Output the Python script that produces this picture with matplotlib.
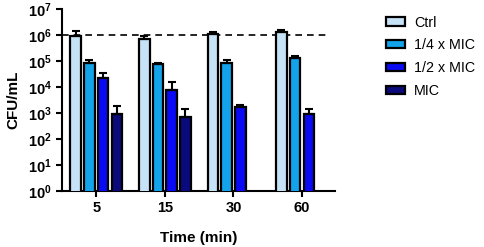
import numpy as np
import matplotlib
matplotlib.use('Agg')
import matplotlib.pyplot as plt

plt.rcParams['font.family'] = ['Liberation Sans', 'DejaVu Sans']
plt.rcParams['mathtext.fontset'] = 'custom'
plt.rcParams['mathtext.rm'] = 'Liberation Sans:bold'
plt.rcParams['mathtext.bf'] = 'Liberation Sans:bold'
plt.rcParams['mathtext.it'] = 'Liberation Sans:bold'

# ── data ──────────────────────────────────────────────────────
times = ['5', '15', '30', '60']
groups = ['Ctrl', '1/4 x MIC', '1/2 x MIC', 'MIC']
means = {
    'Ctrl':      [9.0e5, 7.0e5, 1.1e6, 1.35e6],
    '1/4 x MIC': [8.5e4, 7.4e4, 8.5e4, 1.26e5],
    '1/2 x MIC': [2.3e4, 7.6e3, 1.7e3, 8.9e2],
    'MIC':       [9.0e2, 6.8e2, np.nan, np.nan],
}
err_top = {
    'Ctrl':      [1.4e6, 9.4e5, 1.26e6, 1.6e6],
    '1/4 x MIC': [1.1e5, 8.5e4, 1.05e5, 1.6e5],
    '1/2 x MIC': [3.5e4, 1.5e4, 2.1e3, 1.4e3],
    'MIC':       [1.9e3, 1.4e3, np.nan, np.nan],
}
colors = ['#c6e2f7', '#13a3ea', '#0a0af5', '#0a0a7c']
limit = 1e6

# ── plot ──────────────────────────────────────────────────────
fig = plt.figure(figsize=(4.84, 2.47), dpi=100)
ax = fig.add_axes([0.128, 0.227, 0.564, 0.737])

x = np.arange(len(times))
step = 0.2
width = 0.155
for i, (g, c) in enumerate(zip(groups, colors)):
    pos = x + (i - 1.5) * step
    m = np.array(means[g])
    up = np.array(err_top[g]) - m
    ok = ~np.isnan(m)
    ax.bar(pos[ok], m[ok], width, color=c, edgecolor='black', lw=1.6,
           label=g, zorder=3)
    ax.errorbar(pos[ok], m[ok], yerr=[np.zeros(ok.sum()), up[ok]], fmt='none',
                ecolor='black', elinewidth=1.5, capsize=3, capthick=1.5, zorder=4)

ax.hlines(limit, -0.5, 3.4, color='black', ls=(0, (4, 3)), lw=1.2, zorder=2)

ax.set_yscale('log')
ax.set_ylim(1, 1e7)
ax.set_yticks([10.0 ** k for k in range(8)])
ax.set_yticklabels([rf'$10^{{{k}}}$' for k in range(8)])
ax.minorticks_off()
ax.set_xlim(-0.5, 3.48)
ax.set_xticks(x)
ax.set_xticklabels(times, fontweight='bold')
ax.tick_params(labelsize=10.5, width=1.5, length=4)

ax.set_ylabel('CFU/mL', fontsize=11, fontweight='bold', labelpad=5)
ax.set_xlabel('Time (min)', fontsize=11, fontweight='bold', labelpad=11)

for s in ['top', 'right']:
    ax.spines[s].set_visible(False)
for s in ['left', 'bottom']:
    ax.spines[s].set_linewidth(1.5)

leg = ax.legend(loc='upper left', bbox_to_anchor=(1.165, 0.995), frameon=False,
                fontsize=10.3, handlelength=1.35, handleheight=0.5,
                labelspacing=0.62, handletextpad=0.65, borderaxespad=0)

fig.savefig('out.png', dpi=100)
